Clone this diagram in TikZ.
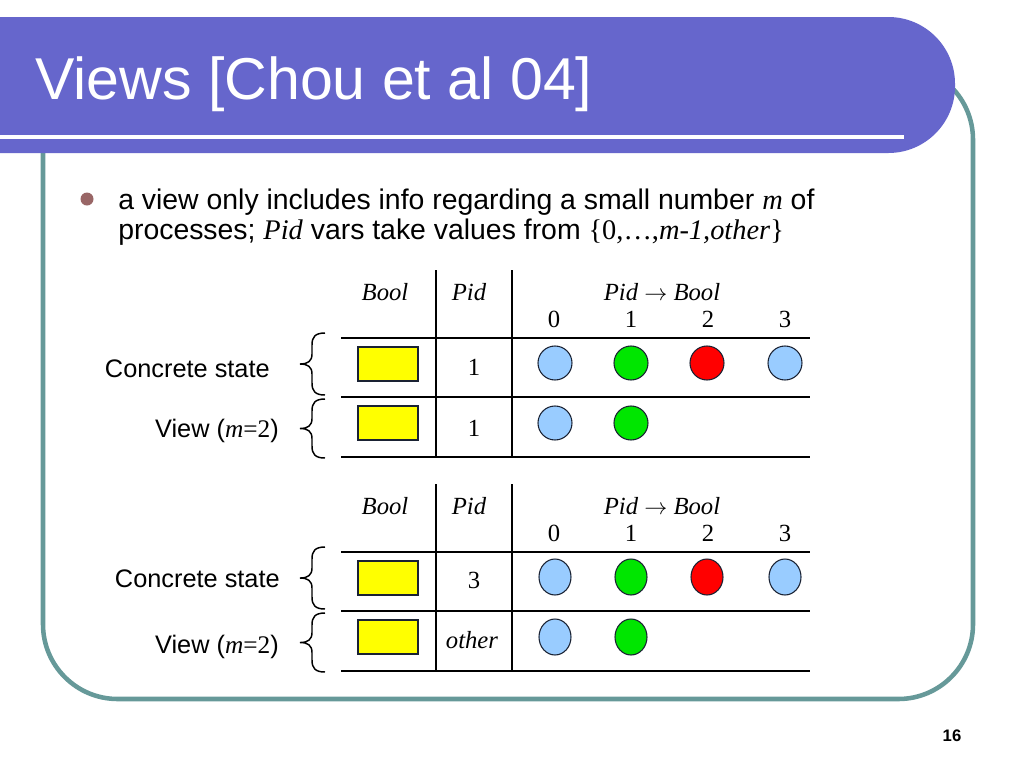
\documentclass[tikz,border=0pt]{standalone}
\usepackage{fontspec}
\setmainfont{Liberation Sans}
\newfontfamily\tms{Liberation Serif}
\definecolor{barblue}{HTML}{6666CC}
\definecolor{frameteal}{HTML}{669999}
\definecolor{bulletc}{HTML}{996666}
\definecolor{lblue}{HTML}{99CCFF}
\definecolor{lgreen}{HTML}{00E600}
\definecolor{lred}{HTML}{FF0000}
\definecolor{lyellow}{HTML}{FFFF00}
\definecolor{outl}{HTML}{1A2233}
\newcommand{\mybrace}[2]{%
 \pgfmathsetmacro{\bm}{(#1+#2)/2}%
 \draw[bracestyle] (325,#1) .. controls (315,#1) and (312,#1+4) .. (312,#1+12) -- (312,\bm-10) .. controls (312,\bm-3) and (308,\bm) .. (300,\bm) .. controls (308,\bm) and (312,\bm+3) .. (312,\bm+10) -- (312,#2-12) .. controls (312,#2-4) and (315,#2) .. (325,#2);}
\begin{document}
\begin{tikzpicture}[x=0.75pt,y=-0.75pt,
  txt/.style={inner sep=0pt,font=\fontsize{19}{22}\selectfont},
  tbl/.style={inner sep=0pt,font=\tms\fontsize{18.5}{22}\selectfont},
  tline/.style={line width=1.6pt,black},
  ybox/.style={draw=outl,line width=0.9pt,fill=lyellow},
  dot/.style={draw=outl,line width=0.8pt},
  bracestyle/.style={line width=1.1pt,black}]
\useasboundingbox (0,0) rectangle (1024,768);
\fill[white] (0,0) rectangle (1024,768);
% frame
\draw[frameteal,line width=3.4pt,rounded corners=56pt] (43,65) rectangle (973,699);
% title bar
\begin{scope}
\clip (0,0) rectangle (1024,768);
\fill[barblue,rounded corners=50pt] (-300,17) rectangle (955,153);
\end{scope}
\fill[white] (0,135) rectangle (904,139);
\node[inner sep=0pt,anchor=base west,text=white,font=\fontsize{44.3}{50}\selectfont] (title) at (35,99) {Views [Chou et al 04]};
% bullet
\fill[bulletc] (87,199) circle[radius=6.5];
\node[inner sep=0pt,anchor=base west,font=\fontsize{21.3}{25}\selectfont] (b1) at (118,209) {a view only includes info regarding a small number {\tms\itshape m} of};
\node[inner sep=0pt,anchor=base west,font=\fontsize{21.3}{25}\selectfont] (b2) at (118,239) {processes; {\tms\itshape Pid} vars take values from {\tms\{0,\dots,\textit{m-1,other}\}}};
% ---------- tables ----------
\foreach \dy/\t in {0/a,214/b}{
  \draw[tline] (436,270+\dy) -- (436,457+\dy);
  \draw[tline] (512,270+\dy) -- (512,457+\dy);
  \draw[tline] (341,338+\dy) -- (810,338+\dy);
  \draw[tline] (341,397+\dy) -- (810,397+\dy);
  \draw[tline] (341,457+\dy) -- (810,457+\dy);
  \node[tbl,anchor=base] (hb\t) at (385,300+\dy) {\itshape Bool};
  \node[tbl,anchor=base] (hp\t) at (469,300+\dy) {\itshape Pid};
  \node[tbl,anchor=base] (hf\t) at (662,300+\dy) {\itshape Pid $\rightarrow$ Bool};
  \node[tbl,anchor=base] (d0\t) at (554,327+\dy) {0};
  \node[tbl,anchor=base] (d1\t) at (631,327+\dy) {1};
  \node[tbl,anchor=base] (d2\t) at (708,327+\dy) {2};
  \node[tbl,anchor=base] (d3\t) at (785,327+\dy) {3};
  \draw[ybox] (358,347+\dy) rectangle (418,381+\dy);
  \draw[ybox] (358,406+\dy) rectangle (418,440+\dy);
}
% table 1 contents
\node[tbl,anchor=base] (p1a) at (474,375) {1};
\node[tbl,anchor=base] (p2a) at (474,436) {1};
\foreach \x/\c in {555/lblue,631/lgreen,707/lred,785/lblue}
  \draw[dot,fill=\c] (\x,363) circle[radius=17];
\foreach \x/\c in {555/lblue,631/lgreen}
  \draw[dot,fill=\c] (\x,423) circle[radius=17];
% table 2 contents
\node[tbl,anchor=base] (p1b) at (474,588) {3};
\node[tbl,anchor=base] (p2b) at (472,648) {\itshape other};
\foreach \x/\c in {555/lblue,631/lgreen,707/lred,785/lblue}
  \draw[dot,fill=\c] (\x,577) ellipse[x radius=16,y radius=18];
\foreach \x/\c in {555/lblue,631/lgreen}
  \draw[dot,fill=\c] (\x,637) ellipse[x radius=16,y radius=18];
% braces
\mybrace{333}{395}
\mybrace{399}{458}
\mybrace{547}{609}
\mybrace{613}{672}
% row labels
\node[txt,anchor=base east] (cs1) at (270,377) {Concrete state};
\node[txt,anchor=base east] (vw1) at (279,437) {View ({\tms\itshape m}{\tms=2})};
\node[txt,anchor=base east] (cs2) at (280,587) {Concrete state};
\node[txt,anchor=base east] (vw2) at (279,653) {View ({\tms\itshape m}{\tms=2})};
% page number
\node[inner sep=0pt,font=\bfseries\fontsize{12.5}{14}\selectfont] (pg) at (952,736) {16};
\end{tikzpicture}
\end{document}
